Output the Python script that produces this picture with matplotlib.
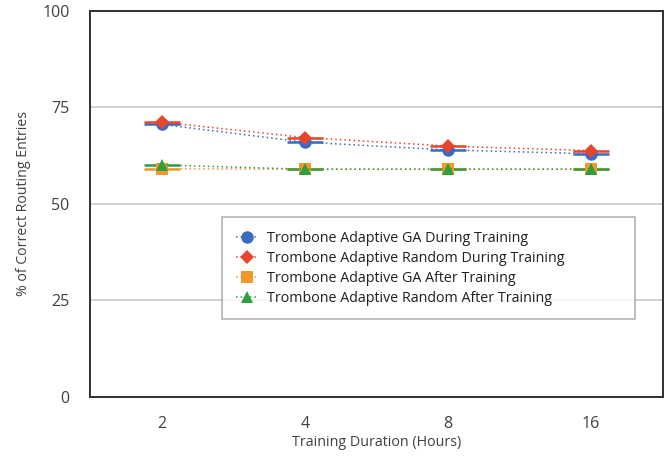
import matplotlib
matplotlib.use("Agg")
import matplotlib.pyplot as plt

plt.rcParams['font.family'] = ['Open Sans', 'DejaVu Sans']

hours = ["2", "4", "8", "16"]
ga_during = [70.6, 66.0, 64.0, 63.0]
rand_during = [71.2, 67.2, 65.0, 63.8]
ga_after = [59.1, 59.0, 59.0, 59.0]
rand_after = [60.1, 59.0, 59.0, 59.0]

series = [
    ("Trombone Adaptive GA During Training", ga_during, "#3a6bc0", "o", 9),
    ("Trombone Adaptive Random During Training", rand_during, "#e8452a", "D", 7),
    ("Trombone Adaptive GA After Training", ga_after, "#f5962a", "s", 8),
    ("Trombone Adaptive Random After Training", rand_after, "#2e9e3e", "^", 9),
]

fig, ax = plt.subplots(figsize=(6.7, 4.68), dpi=100)
fig.subplots_adjust(left=0.135, right=0.989, bottom=0.152, top=0.9765)

x = list(range(len(hours)))
for name, vals, col, mk, ms in series:
    # short horizontal bar through each point
    ax.plot(x, vals, linestyle="none", marker="_", markersize=26,
            markeredgewidth=1.8, color=col, zorder=3)
    ax.plot(x, vals, linestyle=(0, (1, 2)), linewidth=1.1, color=col,
            marker=mk, markersize=ms, markeredgewidth=0, label=name, zorder=4)

ax.set_xlim(-0.5, 3.5)
ax.set_ylim(0, 100)
ax.set_xticks(x)
ax.set_xticklabels(hours)
ax.set_yticks([0, 25, 50, 75, 100])
ax.tick_params(length=0, labelsize=11.5, colors="#404040")
ax.tick_params(axis="y", pad=15)
ax.tick_params(axis="x", pad=14)
ax.yaxis.grid(True, color="#c8c8c8", linewidth=1.2)
ax.set_axisbelow(True)
for s in ax.spines.values():
    s.set_color("#303030")
    s.set_linewidth(1.4)

ax.set_xlabel("Training Duration (Hours)", fontsize=10.3, color="#404040", labelpad=2)
ax.set_ylabel("% of Correct Routing Entries", fontsize=10.2, color="#404040", labelpad=8)

leg = ax.legend(loc="upper left", bbox_to_anchor=(0.23, 0.218, 0.722, 0.248),
                mode="expand", borderaxespad=0, fontsize=10.3, frameon=True,
                fancybox=False, handlelength=1.6, handletextpad=0.6,
                labelspacing=0.35, borderpad=0.95)
leg.get_frame().set_edgecolor("#a0a0a0")
leg.get_frame().set_linewidth(1.2)
for t in leg.get_texts():
    t.set_color("#202020")

fig.savefig("out.png", dpi=100)
